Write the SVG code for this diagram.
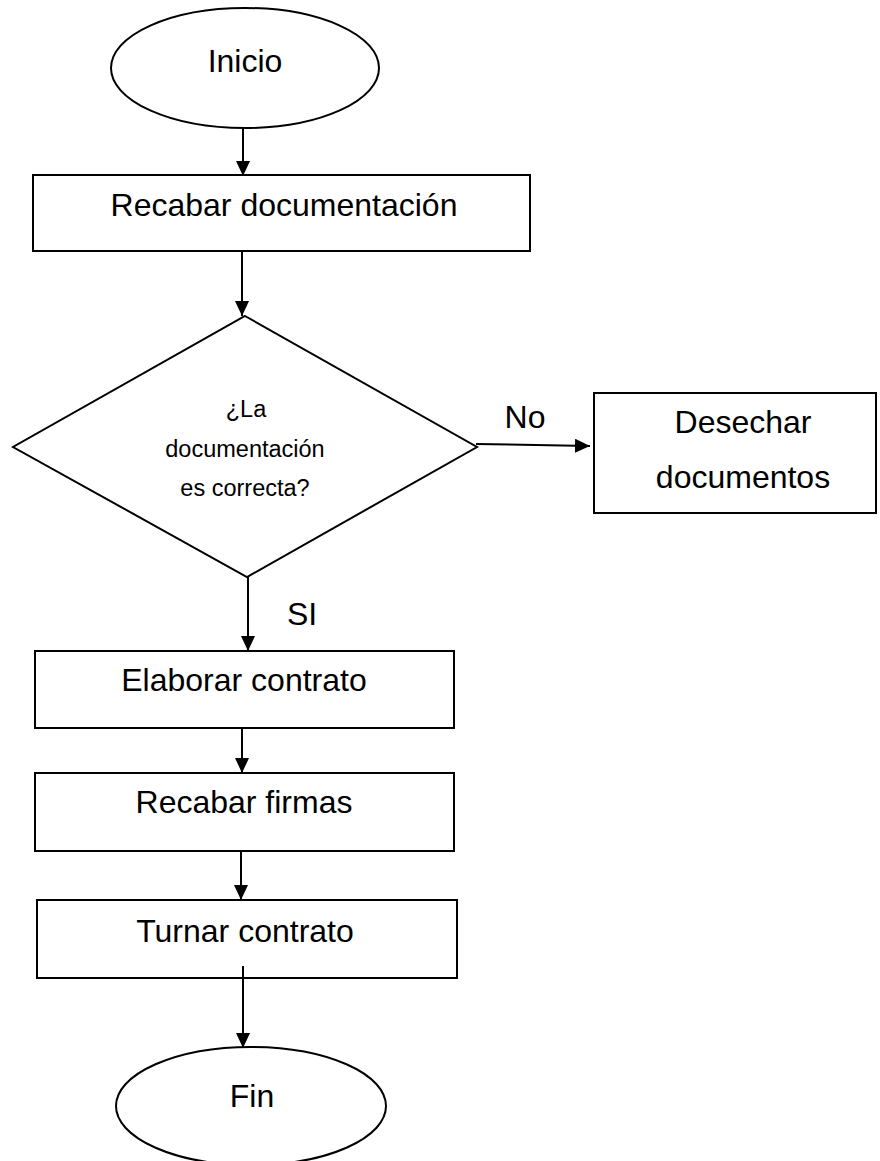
<svg xmlns="http://www.w3.org/2000/svg" width="880" height="1161" viewBox="0 0 880 1161">
<defs>
<style>
.shape{fill:#fff;stroke:#000;stroke-width:2}
.conn{stroke:#000;stroke-width:2;fill:none}
.t{font-family:"Liberation Sans",Arial,sans-serif;font-size:32px;fill:#000;text-anchor:middle}
.s{font-family:"Liberation Sans",Arial,sans-serif;font-size:23.5px;fill:#000;text-anchor:middle}
</style>
<marker id="arr" markerUnits="userSpaceOnUse" markerWidth="15" markerHeight="14" refX="15" refY="7" orient="auto">
<path d="M0,0 L15,7 L0,14 Z" fill="#000"/>
</marker>
</defs>
<rect width="880" height="1161" fill="#fff"/>
<g id="inicio">
<ellipse class="shape" cx="245" cy="68" rx="134" ry="60"/>
<text class="t" x="245" y="72" font-size="31">Inicio</text>
</g>
<g id="recabar-doc">
<rect class="shape" x="33" y="175" width="497" height="76"/>
<text class="t" x="284" y="216">Recabar documentación</text>
</g>
<g id="decision">
<polygon class="shape" points="245,316 477,447 247,577 13,447"/>
<text class="s" x="246" y="417">¿La</text>
<text class="s" x="245" y="457">documentación</text>
<text class="s" x="245" y="496">es correcta?</text>
</g>
<g id="desechar">
<rect class="shape" x="594" y="393" width="282" height="120"/>
<text class="t" x="743" y="433">Desechar</text>
<text class="t" x="743" y="488">documentos</text>
</g>
<g id="elaborar">
<rect class="shape" x="35" y="651" width="419" height="77"/>
<text class="t" x="244" y="691">Elaborar contrato</text>
</g>
<g id="firmas">
<rect class="shape" x="35" y="773" width="419" height="78"/>
<text class="t" x="244" y="813">Recabar firmas</text>
</g>
<g id="turnar">
<rect class="shape" x="37" y="900" width="420" height="78"/>
<text class="t" x="245" y="942">Turnar contrato</text>
</g>
<g id="fin">
<ellipse class="shape" cx="251" cy="1106" rx="135" ry="59"/>
<text class="t" x="252" y="1107">Fin</text>
</g>
<g id="connectors">
<line class="conn" x1="243" y1="128" x2="243" y2="176" marker-end="url(#arr)"/>
<line class="conn" x1="242" y1="251" x2="242" y2="316" marker-end="url(#arr)"/>
<line class="conn" x1="476" y1="444" x2="590" y2="446" marker-end="url(#arr)"/>
<line class="conn" x1="248" y1="577" x2="248" y2="651" marker-end="url(#arr)"/>
<line class="conn" x1="242" y1="728" x2="242" y2="773" marker-end="url(#arr)"/>
<line class="conn" x1="241" y1="851" x2="241" y2="900" marker-end="url(#arr)"/>
<line class="conn" x1="243" y1="966" x2="243" y2="1048" marker-end="url(#arr)"/>
<text class="t" x="525" y="428" font-size="30">No</text>
<text class="t" x="302" y="625" font-size="30">SI</text>
</g>
</svg>
